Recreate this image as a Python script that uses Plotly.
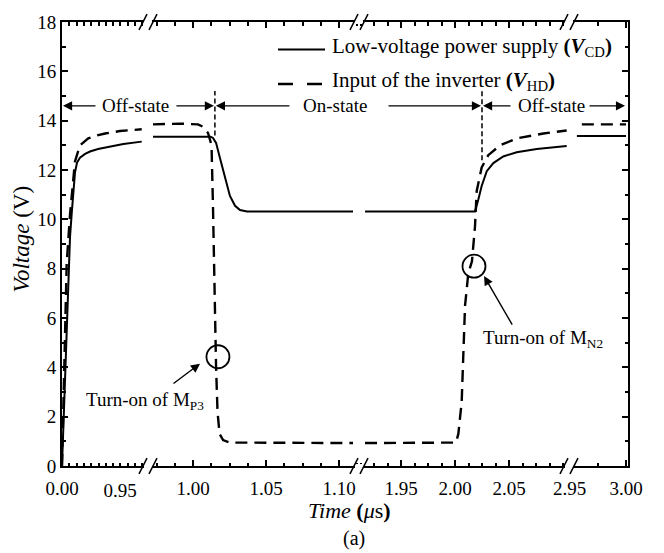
import numpy as np
import plotly.graph_objects as go

FONT = "Liberation Serif, Times New Roman, serif"

# ---------------- data (time in µs, voltage in V), one list pair per axis segment ----------------
# Low-voltage power supply V_CD (solid)
vcd_t1 = [0.0, 0.0017, 0.0032, 0.0043, 0.0055, 0.0066, 0.0078, 0.0089, 0.0103, 0.0123, 0.0158, 0.0192, 0.0247, 0.0306, 0.0420, 0.0546]
vcd_v1 = [0.0, 3.0, 6.0, 8.0, 9.3, 10.2, 11.2, 11.9, 12.3, 12.5, 12.65, 12.75, 12.85, 12.92, 13.05, 13.15]
vcd_t2 = [0.9726, 0.9911, 1.0096, 1.0120, 1.0137, 1.0158, 1.0185, 1.0219, 1.0253, 1.0288, 1.0322, 1.0370, 1.0459, 1.1096]
vcd_v2 = [13.35, 13.35, 13.35, 13.35, 13.3, 13.1, 12.48, 11.68, 10.95, 10.55, 10.38, 10.32, 10.32, 10.32]
vcd_t3 = [1.9167, 2.0185, 2.0216, 2.0247, 2.0294, 2.0355, 2.0447, 2.0571, 2.0757, 2.1034]
vcd_v3 = [10.32, 10.32, 10.8, 11.35, 11.95, 12.28, 12.55, 12.72, 12.85, 12.97]
vcd_t4 = [2.9565, 3.0]
vcd_v4 = [13.38, 13.38]

# Input of the inverter V_HD (dashed)
vhd_t1 = [0.0, 0.0014, 0.0025, 0.0032, 0.0055, 0.0077, 0.0089, 0.0123, 0.0180, 0.0240, 0.0295, 0.0397, 0.0546]
vhd_v1 = [0.0, 3.5, 6.5, 8.2, 10.2, 11.8, 12.35, 13.0, 13.28, 13.4, 13.48, 13.58, 13.65]
vhd_t2 = [0.9726, 0.9911, 1.0034, 1.0069, 1.0103, 1.0127, 1.0137, 1.0147, 1.0158, 1.0168, 1.0182, 1.0206, 1.0253, 1.1096]
vhd_v2 = [13.85, 13.88, 13.85, 13.75, 13.5, 13.0, 10.5, 7.0, 4.0, 2.2, 1.3, 1.05, 0.95, 0.93]
vhd_t3 = [1.9167, 2.0009, 2.0031, 2.0062, 2.0077, 2.0093, 2.0123, 2.0157, 2.0185, 2.0201, 2.0247, 2.0308, 2.0417, 2.0571, 2.0818, 2.1034]
vhd_v3 = [0.93, 0.95, 1.3, 2.6, 4.5, 6.5, 7.8, 8.3, 9.7, 11.15, 12.1, 12.6, 13.0, 13.28, 13.48, 13.6]
vhd_t4 = [2.9609, 3.0]
vhd_v4 = [13.85, 13.85]

series_names = ["Low-voltage power supply <b>(</b><b><i>V</i></b><sub>CD</sub><b>)</b>",
                "Input of the inverter <b>(</b><b><i>V</i></b><sub>HD</sub><b>)</b>"]

# broken time axis: ranges and tick labels of each segment
seg_ranges = [[0.0, 0.0589], [0.96918, 1.11370], [1.91111, 2.10556], [2.9495, 3.00175]]
seg_labels = [["0.00"], ["1.00", "1.05", "1.10"], ["1.95", "2.00", "2.05"], ["2.95", "3.00"]]
seg_minor_step = [0.005, 0.0125, 0.0125, 0.025]
extra_label = ["0.95"]           # label of segment-2 scale that sits left of the first break
y_ticks = list(range(0, 19, 2))

# state markers (µs) and annotation values
sep_times = [1.015, 2.025]
state_arrow_v = 14.6
turn_on_circles = [(1.0171, 4.43), (2.0176, 8.10)]

# ---------------- layout geometry ----------------
W, H = 664, 553
ML, MR, MT, MB = 62, 36, 15, 87
PW, PH = W - ML - MR, H - MT - MB
Y0 = H - MB  # bottom pixel of plot


def xp(px):
    return (px - ML) / PW


def yp(py):
    return (Y0 - py) / PH


seg_px = [[62, 148], [148, 359], [359, 569], [569, 628]]
axnames = ["x", "x2", "x3", "x4"]
dash_styles = ["solid", "12px,7px"]
widths = [2.0, 2.4]

fig = go.Figure()

all_segs = [
    [(vcd_t1, vcd_v1), (vcd_t2, vcd_v2), (vcd_t3, vcd_v3), (vcd_t4, vcd_v4)],
    [(vhd_t1, vhd_v1), (vhd_t2, vhd_v2), (vhd_t3, vhd_v3), (vhd_t4, vhd_v4)],
]
for k, segs in enumerate(all_segs):
    for i, (tt, vv) in enumerate(segs):
        fig.add_trace(go.Scatter(
            x=tt, y=vv, mode="lines", name=series_names[k], showlegend=False,
            line=dict(color="black", width=widths[k], dash=dash_styles[k]),
            xaxis=axnames[i], yaxis="y2" if i == 3 else "y", hoverinfo="skip"))

# empty trace registering the helper axis that carries the "0.95" label
fig.add_trace(go.Scatter(x=[], y=[], xaxis="x5", yaxis="y", showlegend=False, hoverinfo="skip"))

tickfont = dict(family=FONT, size=19, color="black")
layout = dict(
    width=W, height=H, margin=dict(l=ML, r=MR, t=MT, b=MB),
    paper_bgcolor="white", plot_bgcolor="rgba(0,0,0,0)",
    font=dict(family=FONT, size=19, color="black"),
    showlegend=False,
)

for i in range(4):
    key = "xaxis" if i == 0 else f"xaxis{i + 1}"
    lo, hi = seg_ranges[i]
    st = seg_minor_step[i]
    minor_vals = list(np.arange(np.ceil(lo / st) * st, hi, st))
    layout[key] = dict(
        domain=[xp(seg_px[i][0]), xp(seg_px[i][1])], range=[lo, hi], anchor="y",
        showline=True, linewidth=2, linecolor="black", mirror="ticks",
        ticks="inside", ticklen=6, tickwidth=1.5, tickcolor="black",
        tickmode="array", tickvals=[float(s) for s in seg_labels[i]], ticktext=seg_labels[i],
        minor=dict(tickmode="array", tickvals=minor_vals, ticks="inside", ticklen=3.5,
                   tickwidth=1.5, tickcolor="black"),
        tickfont=tickfont, ticklabelstandoff=4,
        showgrid=False, zeroline=False, fixedrange=True,
    )

# helper axis: segment-2 scale extended to the left edge, only for the "0.95" label
s2lo, s2hi = seg_ranges[1]
scale2 = (seg_px[1][1] - seg_px[1][0]) / (s2hi - s2lo)
layout["xaxis5"] = dict(
    domain=[xp(62), xp(359)], range=[s2lo - (148 - 62) / scale2, s2hi], anchor="y",
    showline=False, ticks="", tickmode="array", tickvals=[float(s) for s in extra_label],
    ticktext=extra_label, tickfont=tickfont, ticklabelstandoff=11,
    showgrid=False, zeroline=False, fixedrange=True,
)

yax = dict(range=[0, 18], domain=[0, 1], showline=True, linewidth=2, linecolor="black",
           ticks="inside", ticklen=6, tickwidth=1.5, tickcolor="black",
           tickmode="array", tickvals=y_ticks, ticktext=[str(v) for v in y_ticks],
           minor=dict(tickmode="array", tickvals=list(range(1, 18, 2)), ticks="inside",
                      ticklen=3.5, tickwidth=1.5, tickcolor="black"),
           tickfont=tickfont, showgrid=False, zeroline=False, fixedrange=True)
layout["yaxis"] = dict(yax, anchor="x", side="left")
layout["yaxis2"] = dict(yax, anchor="x4", side="right", showticklabels=False)
fig.update_layout(**layout)

# ---------------- shapes ----------------
shapes = []
for B in [148, 359, 569]:
    for yl in [Y0, MT]:
        shapes.append(dict(type="rect", xref="paper", yref="paper", x0=xp(B - 4), x1=xp(B + 4),
                           y0=yp(yl + 2), y1=yp(yl - 2), fillcolor="white", line=dict(width=0),
                           layer="above"))
        for c in [B - 5, B + 5]:
            shapes.append(dict(type="line", xref="paper", yref="paper", x0=xp(c - 4), x1=xp(c + 4),
                               y0=yp(yl + 8), y1=yp(yl - 8), line=dict(color="black", width=1.5),
                               layer="above"))

sep_axes = ["x2", "x3"]
sep_bottom = [13.4, 12.4]
for ax, t, vb in zip(sep_axes, sep_times, sep_bottom):
    shapes.append(dict(type="line", xref=ax, yref="y", x0=t, x1=t, y0=vb, y1=15.2,
                       line=dict(color="black", width=1.5, dash="5px,3px")))

for ax, (tc, vc) in zip(sep_axes, turn_on_circles):
    shapes.append(dict(type="circle", xref=ax, yref="y", xsizemode="pixel", ysizemode="pixel",
                       xanchor=tc, yanchor=vc, x0=-11.5, x1=11.5, y0=-11.5, y1=11.5,
                       line=dict(color="black", width=1.8)))

# legend samples (drawn manually for the long line samples)
legend_rows_px = [43, 78]
legend_dash = ["solid", "15px,14px"]
for k, ry in enumerate(legend_rows_px):
    shapes.append(dict(type="line", xref="paper", yref="paper", x0=xp(278), x1=xp(325),
                       y0=yp(ry), y1=yp(ry),
                       line=dict(color="black", width=widths[k], dash=legend_dash[k])))
fig.update_layout(shapes=shapes)

# ---------------- annotations ----------------
ann = []
for k, ry in enumerate(legend_rows_px):
    ann.append(dict(text=series_names[k], xref="paper", yref="paper", x=xp(330), y=yp(ry - 3),
                    showarrow=False, font=dict(family=FONT, size=21), xanchor="left",
                    yanchor="middle"))

arrow_style = dict(showarrow=True, arrowhead=2, arrowsize=1.3, arrowwidth=1.4, arrowcolor="black",
                   text="", axref="pixel", ayref="pixel")
# (axis, head time, tail offset px)
state_arrows = [("x", seg_ranges[0][0], 35), ("x2", sep_times[0], -40), ("x2", sep_times[0], 76),
                ("x3", sep_times[1], -95), ("x3", sep_times[1], 30), ("x4", 3.0, -38)]
for ax, t, off in state_arrows:
    ann.append(dict(arrow_style, xref=ax, yref="y", x=t, y=state_arrow_v, ax=off, ay=0, standoff=1))

state_text = [("Off-state", 135), ("On-state", 335), ("Off-state", 551)]
for txt, px in state_text:
    ann.append(dict(text=txt, xref="paper", yref="y", x=xp(px), y=state_arrow_v, showarrow=False,
                    font=dict(family=FONT, size=19), xanchor="center", yanchor="middle"))

# turn-on pointers
ann.append(dict(arrow_style, xref="x2", yref="y", x=1.0048, y=4.15, ax=-28, ay=21))
ann.append(dict(arrow_style, xref="x3", yref="y", x=2.0269, y=7.70, ax=29, ay=50))
ann.append(dict(text="Turn-on of M<sub>P3</sub>", xref="paper", yref="paper", x=xp(145), y=yp(400),
                showarrow=False, font=dict(family=FONT, size=19), xanchor="center", yanchor="middle"))
ann.append(dict(text="Turn-on of M<sub>N2</sub>", xref="paper", yref="paper", x=xp(543), y=yp(337),
                showarrow=False, font=dict(family=FONT, size=19), xanchor="center", yanchor="middle"))

# axis titles and caption
ann.append(dict(text="<i>Voltage</i> (V)", xref="paper", yref="paper", x=xp(22), y=yp(236),
                textangle=-90, showarrow=False, font=dict(family=FONT, size=23),
                xanchor="center", yanchor="middle"))
ann.append(dict(text="<i>Time</i> <b>(</b><i>μ</i>s<b>)</b>", xref="paper", yref="paper", x=xp(349), y=yp(511),
                showarrow=False, font=dict(family=FONT, size=22), xanchor="center", yanchor="middle"))
ann.append(dict(text="(a)", xref="paper", yref="paper", x=xp(354), y=yp(540),
                showarrow=False, font=dict(family=FONT, size=20), xanchor="center", yanchor="middle"))
fig.update_layout(annotations=ann)

fig.write_html("out.html")
